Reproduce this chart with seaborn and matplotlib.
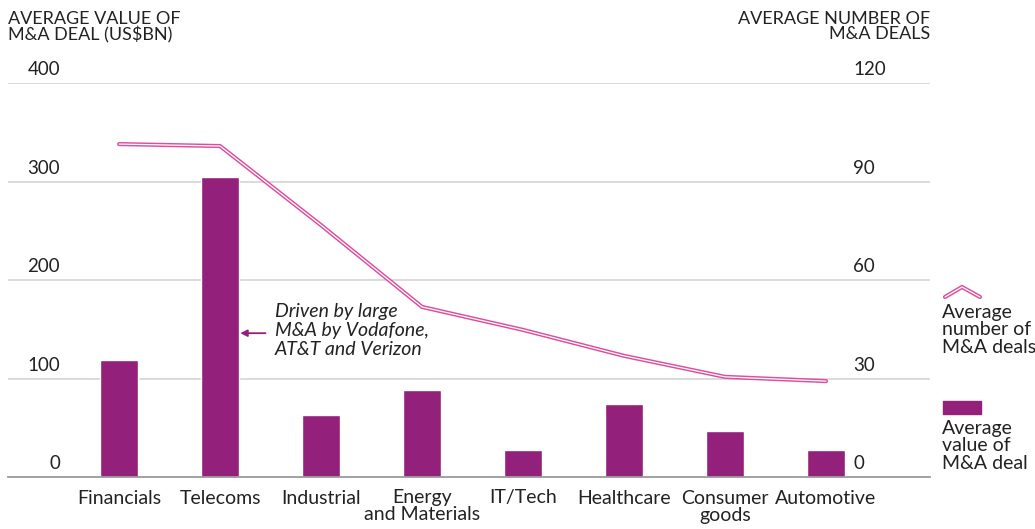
import matplotlib
matplotlib.use("Agg")
import matplotlib.pyplot as plt
import matplotlib.patheffects as pe
from matplotlib.patches import Rectangle
from matplotlib.lines import Line2D
import seaborn as sns
import numpy as np
import pandas as pd

# chart data
sectors = ["Financials", "Telecoms", "Industrial", "Energy\nand Materials",
           "IT/Tech", "Healthcare", "Consumer\ngoods", "Automotive"]
avg_value = [119, 305, 63, 88, 27, 74, 47, 27]          # US$bn, left axis
avg_count = [101.4, 100.8, 76.7, 51.8, 44.8, 36.9, 30.5, 29.2]  # right axis
left_ticks = [0, 100, 200, 300, 400]
right_ticks = [0, 30, 60, 90, 120]

purple = "#93207a"
pink = "#dd4e9e"
grid_c = "#d4d4d4"
text_c = "#222222"

sns.set_style("white")
plt.rcParams["font.family"] = ["Lato", "DejaVu Sans"]
plt.rcParams["text.color"] = text_c

df = pd.DataFrame({"sector": sectors, "value": avg_value, "count": avg_count})

W, H = 1035, 529
fig = plt.figure(figsize=(W / 100, H / 100), dpi=100)
ax = fig.add_axes([8 / W, 1 - 477 / H, (930 - 8) / W, (477 - 83) / H])

# horizontal gridlines first so bars sit on top
for t in left_ticks[1:]:
    ax.axhline(t, color=grid_c, lw=1.2, zorder=0)

sns.barplot(data=df, x="sector", y="value", color=purple, width=0.38,
            saturation=1, ax=ax, zorder=2)
ax.set_xlim(-1.1, 8.03)
ax.set_ylim(0, 400)
ax.set_xlabel("")
ax.set_ylabel("")
ax.set_yticks([])
for s in ["top", "left", "right"]:
    ax.spines[s].set_visible(False)
ax.spines["bottom"].set_color("#9a9a9a")
ax.spines["bottom"].set_linewidth(1.3)
ax.tick_params(axis="x", length=0, pad=9, labelsize=14, colors=text_c)
for lab in ax.get_xticklabels():
    lab.set_linespacing(1.0)

# right axis: average number of deals as a double (outlined) line
ax2 = ax.twinx()
ax2.set_ylim(0, 120)
ax2.set_yticks([])
for s in ["top", "left", "right", "bottom"]:
    ax2.spines[s].set_visible(False)
sns.lineplot(x=np.arange(len(sectors)), y=avg_count, ax=ax2, color="white",
             lw=0.9, solid_capstyle="round", solid_joinstyle="round",
             path_effects=[pe.Stroke(linewidth=3.0, foreground=pink,
                                     capstyle="round", joinstyle="round"),
                           pe.Normal()])

# tick labels sit inside the plot, just above each gridline
for t in left_ticks:
    ax.annotate(str(t), xy=(52 / 922, t), xycoords=("axes fraction", "data"),
                xytext=(0, 3.5), textcoords="offset points",
                ha="right", va="bottom", fontsize=13.5)
for t in right_ticks:
    ax2.annotate(str(t), xy=(1 - 77 / 922, t), xycoords=("axes fraction", "data"),
                 xytext=(0, 3.5), textcoords="offset points",
                 ha="left", va="bottom", fontsize=13.5)

# axis titles
fig.text(8 / W, 1 - 11 / H, "AVERAGE VALUE OF\nM&A DEAL (US$BN)", ha="left",
         va="top", fontsize=13, linespacing=0.95)
fig.text(930 / W, 1 - 11 / H, "AVERAGE NUMBER OF\nM&A DEALS", ha="right",
         va="top", fontsize=13, linespacing=0.95)

# annotation for telecoms
ax.annotate("", xy=(1.2, 146), xytext=(1.45, 146),
            arrowprops=dict(arrowstyle="-|>", color=purple, lw=1.3,
                            mutation_scale=10, shrinkA=0, shrinkB=0))
ax.text(1.545, 149, "Driven by large\nM&A by Vodafone,\nAT&T and Verizon",
        ha="left", va="center", fontsize=14, fontstyle="italic",
        linespacing=1.13)

# legend on the right
chev = Line2D([945 / W, 962 / W, 980 / W], [1 - 297 / H, 1 - 287 / H, 1 - 297 / H],
              transform=fig.transFigure, color="white", lw=0.9,
              solid_capstyle="round", solid_joinstyle="miter",
              path_effects=[pe.Stroke(linewidth=3.0, foreground=pink,
                                      capstyle="round"), pe.Normal()])
fig.add_artist(chev)
fig.text(942 / W, 1 - 304 / H, "Average\nnumber of\nM&A deals", ha="left",
         va="top", fontsize=14, linespacing=1.03)
fig.add_artist(Rectangle((943 / W, 1 - 414 / H), 38 / W, 13 / H,
                         transform=fig.transFigure, color=purple))
fig.text(942 / W, 1 - 420 / H, "Average\nvalue of\nM&A deal", ha="left",
         va="top", fontsize=14, linespacing=1.03)

fig.savefig("out.png", dpi=100)
